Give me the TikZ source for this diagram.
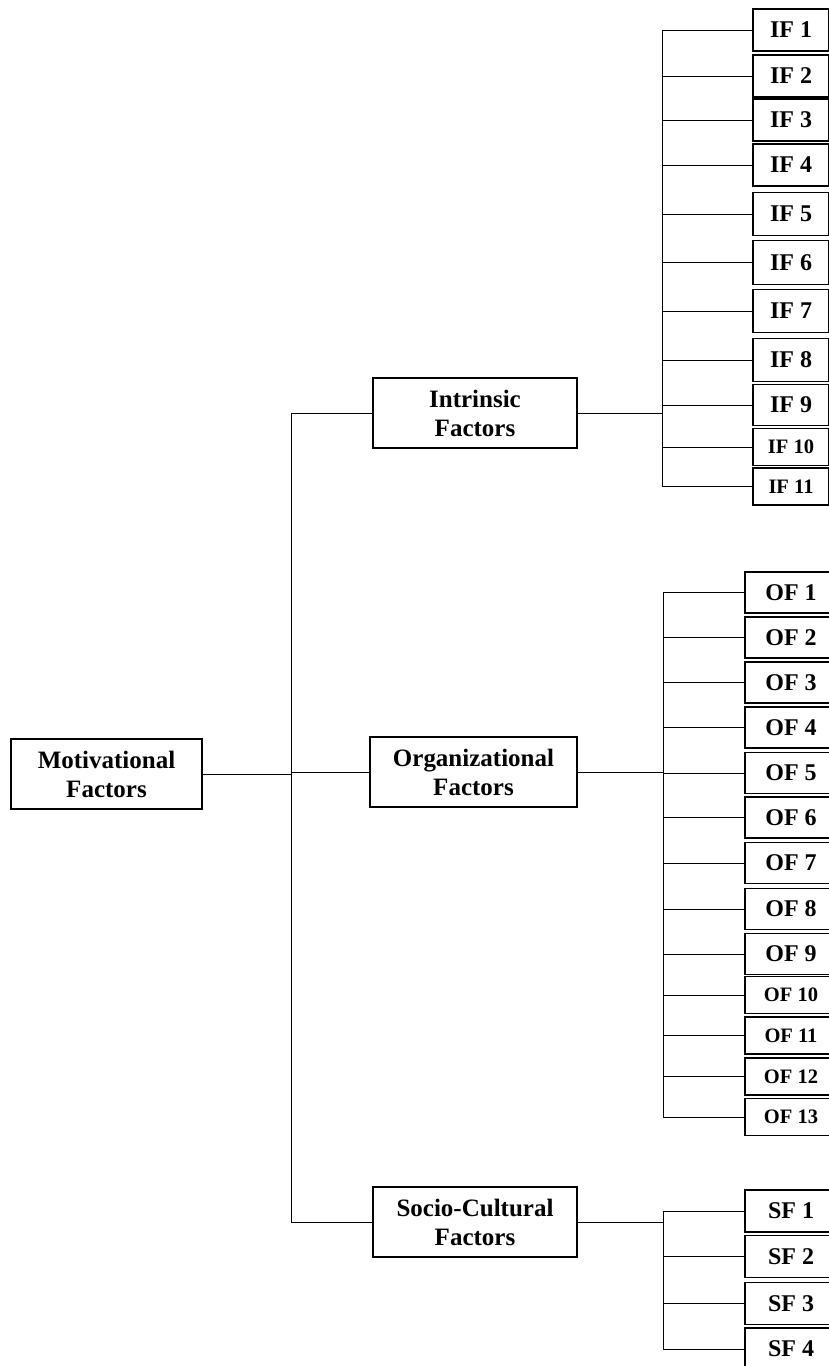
\documentclass[tikz,border=0pt]{standalone}
\usepackage{fontspec}
\setmainfont{Liberation Serif}
\begin{document}
\begin{tikzpicture}[x=1pt,y=-1pt,
  box/.style={draw, line width=1.1pt, inner sep=0pt, align=center,
    font=\bfseries\fontsize{25}{29}\selectfont, minimum height=70pt},
  leaf/.style={draw, line width=1.1pt, inner sep=0pt,
    font=\bfseries\fontsize{24}{29}\selectfont, minimum height=41pt},
  smallleaf/.style={leaf, font=\bfseries\fontsize{20.5}{24}\selectfont, minimum height=37pt},
  ifw/.style={minimum width=76pt},
  ofw/.style={minimum width=92pt},
  link/.style={line width=0.8pt}]
\useasboundingbox (0,0) rectangle (829,1366);
\clip (0,0) rectangle (829,1366);

% main boxes
\node[box, minimum width=191pt] (mot) at (106.5,774) {Motivational\\Factors};
\node[box, minimum width=204pt] (intr) at (475,413) {Intrinsic\\Factors};
\node[box, minimum width=207pt] (org) at (473.5,772) {Organizational\\Factors};
\node[box, minimum width=204pt] (soc) at (475,1222) {Socio-Cultural\\Factors};

% bus coordinates
\coordinate (trunk) at (291,772);
\coordinate (ib) at (662,412);
\coordinate (ob) at (663,772);
\coordinate (sb) at (663,1222);

% intrinsic leaves
\node[leaf, ifw, minimum height=42pt] (if1) at (791,30) {IF 1};
\node[leaf, ifw, minimum height=42pt] (if2) at (791,76) {IF 2};
\node[leaf, ifw, minimum height=42pt] (if3) at (791,120) {IF 3};
\node[leaf, ifw, minimum height=42pt] (if4) at (791,165) {IF 4};
\node[leaf, ifw, minimum height=43pt] (if5) at (791,214) {IF 5};
\node[leaf, ifw, minimum height=44pt] (if6) at (791,262.5) {IF 6};
\node[leaf, ifw, minimum height=43pt] (if7) at (791,311) {IF 7};
\node[leaf, ifw, minimum height=43pt] (if8) at (791,360) {IF 8};
\node[leaf, ifw, minimum height=41pt] (if9) at (791,405) {IF 9};
\node[smallleaf, ifw] (if10) at (791,447) {IF 10};
\node[smallleaf, ifw] (if11) at (791,486.5) {IF 11};

% organizational leaves
\node[leaf, ofw] (of1) at (791,592.5) {OF 1};
\node[leaf, ofw] (of2) at (791,637.5) {OF 2};
\node[leaf, ofw] (of3) at (791,682.5) {OF 3};
\node[leaf, ofw] (of4) at (791,727.5) {OF 4};
\node[leaf, ofw] (of5) at (791,773) {OF 5};
\node[leaf, ofw] (of6) at (791,817.5) {OF 6};
\node[leaf, ofw] (of7) at (791,863) {OF 7};
\node[leaf, ofw] (of8) at (791,909) {OF 8};
\node[leaf, ofw] (of9) at (791,954) {OF 9};
\node[smallleaf, ofw] (of10) at (791,995) {OF 10};
\node[smallleaf, ofw] (of11) at (791,1035.5) {OF 11};
\node[smallleaf, ofw] (of12) at (791,1076.5) {OF 12};
\node[smallleaf, ofw] (of13) at (791,1117) {OF 13};

% socio-cultural leaves
\node[leaf, ofw, minimum height=42pt] (sf1) at (791,1211) {SF 1};
\node[leaf, ofw, minimum height=42pt] (sf2) at (791,1256.5) {SF 2};
\node[leaf, ofw, minimum height=42pt] (sf3) at (791,1303.5) {SF 3};
\node[leaf, ofw, minimum height=42pt] (sf4) at (791,1349) {SF 4};

% main trunk
\draw[link] (intr.west) -- (intr.west -| trunk) -- (soc.west -| trunk) -- (soc.west);
\draw[link] (mot.east) -- (mot.east -| trunk);
\draw[link] (org.west) -- (org.west -| trunk);

% to buses
\draw[link] (intr.east) -- (intr.east -| ib);
\draw[link] (org.east) -- (org.east -| ob);
\draw[link] (soc.east) -- (soc.east -| sb);

% buses
\draw[link] (if1.west -| ib) -- (if11.west -| ib);
\draw[link] (of1.west -| ob) -- (of13.west -| ob);
\draw[link] (sf1.west -| sb) -- (sf4.west -| sb);

\foreach \n in {if1,if2,if3,if4,if5,if6,if7,if8,if9,if10,if11}
  \draw[link] (\n.west -| ib) -- (\n.west);
\foreach \n in {of1,of2,of3,of4,of5,of6,of7,of8,of9,of10,of11,of12,of13}
  \draw[link] (\n.west -| ob) -- (\n.west);
\foreach \n in {sf1,sf2,sf3,sf4}
  \draw[link] (\n.west -| sb) -- (\n.west);
\end{tikzpicture}
\end{document}
